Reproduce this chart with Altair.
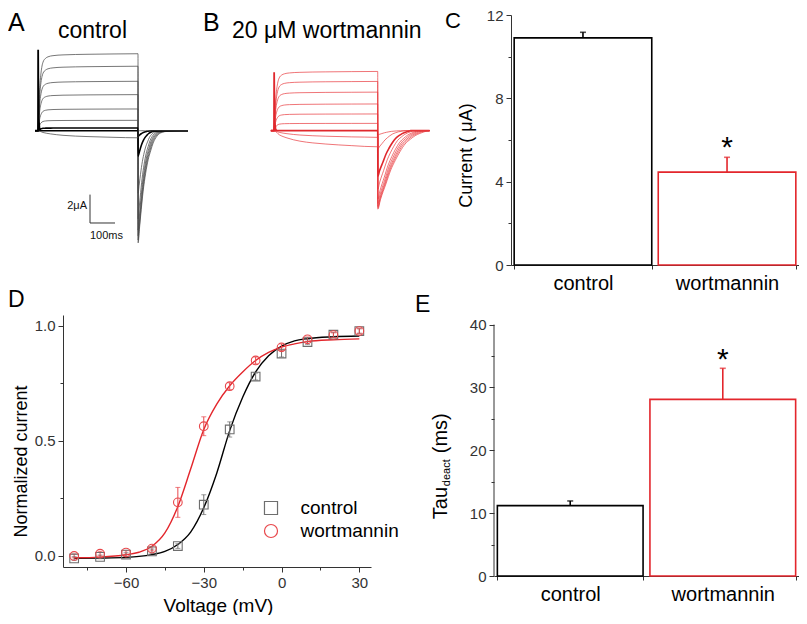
import altair as alt
import pandas as pd

FONT = "Liberation Sans"
RED = "#e3262c"
RED_PT = "#e8474b"
GRAY_PT = "#6e6e6e"
AXIS_C = "#333333"

# ---------------- data ----------------
# Panels A/B: time courses (fractions of the step level / tail peak), ms
ACT_T = [0, 2, 4, 6, 8, 12, 16, 20, 30, 40, 60, 100, 200, 300, 400]
ACT_F = [0, 0.18, 0.35, 0.5, 0.61, 0.75, 0.84, 0.89, 0.94, 0.96, 0.975, 0.985, 0.993, 0.997, 1.0]
SLOW_T = [0, 20, 50, 100, 150, 200, 300, 400]
SLOW_F = [0, 0.25, 0.45, 0.65, 0.76, 0.83, 0.93, 1.0]
TAIL_A_DT = [0, 5, 10, 20, 30, 40, 50, 60, 75, 90, 120, 190]
TAIL_A_F = [1, 0.88, 0.76, 0.54, 0.38, 0.26, 0.18, 0.11, 0.05, 0.02, 0.005, 0]
TAIL_B_DT = [0, 10, 31, 50, 67, 85, 105, 125, 144, 175, 195]
TAIL_B_F = [1, 0.88, 0.68, 0.5, 0.38, 0.27, 0.17, 0.11, 0.064, 0.02, 0]

# step levels (uA), tail peaks (uA) and tail time stretch for each sweep
LEVEL_A = [5.42, 4.54, 3.48, 2.54, 1.53, 0.73, 0.19, 0.0, -0.5]
TAILPK_A = [-7.9, -7.7, -7.4, -7.0, -6.2, -4.4, -1.8, -0.4, 0.0]
TAILSC_A = [1.0, 0.95, 0.9, 0.85, 0.8, 0.75, 0.7, 0.6, 0.5]
LEVEL_B = [4.15, 3.45, 2.70, 1.87, 1.17, 0.51, 0.0, -0.47, -1.13]
TAILPK_B = [-5.5, -5.4, -5.3, -5.1, -4.8, -4.1, -3.2, -1.3, -0.3]
TAILSC_B = [1.0, 0.95, 0.9, 0.85, 0.8, 0.72, 0.65, 0.55, 0.5]

# capacitive transient at the step onset
CAP_T = [-12, 0, 0.6, 1.5, 3, 6, 10]
CAP_A = [0, 0, 5.7, 3.0, 0.8, 0.15, 0]
CAP_B = [0, 0, 4.1, 2.2, 0.6, 0.1, 0]

# scale bar of panel A (ms, uA)
SB_T = [208, 308]
SB_I = [-4.5, -6.5]

# Panel C / E bars
CATS = ["control", "wortmannin"]
C_VAL = [10.9, 4.46]
C_ERR = [0.27, 0.71]
E_VAL = [11.2, 28.1]
E_ERR = [0.74, 4.95]

# Panel D
V = [-80, -70, -60, -50, -40, -30, -20, -10, 0, 10, 20, 30]
CTRL_MEAN = [-0.011, -0.004, 0.006, 0.02, 0.043, 0.223, 0.55, 0.78, 0.88, 0.93, 0.962, 0.978]
CTRL_ERR = [0.008, 0.008, 0.008, 0.01, 0.01, 0.043, 0.033, 0.015, 0.015, 0.01, 0.01, 0.01]
WORT_MEAN = [0.0, 0.01, 0.015, 0.032, 0.233, 0.564, 0.738, 0.85, 0.907, 0.942, 0.96, 0.978]
WORT_ERR = [0.008, 0.01, 0.008, 0.01, 0.065, 0.041, 0.015, 0.015, 0.015, 0.01, 0.01, 0.01]
FIT_V = [-80, -70, -60, -55, -50, -45, -40, -35, -30, -25, -20, -15, -10, -5, 0, 5, 10, 20, 30]
FIT_CTRL = [-0.01, -0.009, -0.006, -0.002, 0.006, 0.02, 0.05, 0.105, 0.21, 0.36, 0.545, 0.69,
            0.80, 0.87, 0.912, 0.935, 0.945, 0.953, 0.956]
FIT_WORT = [-0.008, -0.005, 0.005, 0.016, 0.042, 0.1, 0.215, 0.38, 0.55, 0.66, 0.74, 0.80,
            0.85, 0.885, 0.908, 0.922, 0.932, 0.94, 0.944]


# ---------------- helpers ----------------
def sweeps(levels, peaks, stretch, tail_dt, tail_f):
    rows = []
    for i, (lv, pk, sc) in enumerate(zip(levels, peaks, stretch)):
        rows.append({"trace": i, "t": -12.0, "I": 0.0})
        st, sf = (ACT_T, ACT_F) if lv >= 0 else (SLOW_T, SLOW_F)
        for t, f in zip(st, sf):
            rows.append({"trace": i, "t": float(t), "I": lv * f})
        for dt, f in zip(tail_dt, tail_f):
            rows.append({"trace": i, "t": 400.5 + dt * sc, "I": pk * f})
        rows.append({"trace": i, "t": 600.0, "I": 0.0})
    return pd.DataFrame(rows)


def label(text, x, y, size, align="left", baseline="alphabetic", angle=0, color="#000"):
    return alt.Chart(pd.DataFrame({"s": [text]})).mark_text(
        align=align, baseline=baseline, fontSize=size, angle=angle, color=color, font=FONT
    ).encode(x=alt.value(x), y=alt.value(y), text="s:N")


def trace_layers(df, cap, xdom, ydom, main_color, thin_color, thin_w, thick_test):
    xs = alt.Scale(domain=xdom, nice=False, zero=False)
    ys = alt.Scale(domain=ydom, nice=False, zero=False)
    lines = alt.Chart(df).mark_line(interpolate="monotone").encode(
        x=alt.X("t:Q", scale=xs, axis=None),
        y=alt.Y("I:Q", scale=ys, axis=None),
        detail="trace:N",
        order="t:Q",
        color=alt.condition(thick_test, alt.value(main_color), alt.value(thin_color)),
        strokeWidth=alt.condition(thick_test, alt.value(1.6), alt.value(thin_w)),
    )
    capl = alt.Chart(pd.DataFrame({"t": CAP_T, "I": cap})).mark_line(
        color=main_color, strokeWidth=1.8
    ).encode(x=alt.X("t:Q", scale=xs, axis=None), y=alt.Y("I:Q", scale=ys, axis=None))
    return [lines, capl], xs, ys


# ---------------- panels A + B (one view, independent scales) ----------------
dfA = sweeps(LEVEL_A, TAILPK_A, TAILSC_A, TAIL_A_DT, TAIL_A_F)
layA, xsA, ysA = trace_layers(dfA, CAP_A, [100, 1332], [-9.458, 8.148], "#000000", "#4a4a4a", 0.75,
                              "datum.trace == 6 || datum.trace == 7")
sb_v = alt.Chart(pd.DataFrame({"t": [SB_T[0]], "I": [SB_I[0]], "I2": [SB_I[1]]})).mark_rule(
    color="#333", strokeWidth=1).encode(
    x=alt.X("t:Q", scale=xsA, axis=None), y=alt.Y("I:Q", scale=ysA, axis=None), y2="I2:Q")
sb_h = alt.Chart(pd.DataFrame({"t": [SB_T[0]], "t2": [SB_T[1]], "I": [SB_I[1]]})).mark_rule(
    color="#333", strokeWidth=1).encode(
    x=alt.X("t:Q", scale=xsA, axis=None), x2="t2:Q", y=alt.Y("I:Q", scale=ysA, axis=None))
sb_lab1 = alt.Chart(pd.DataFrame({"t": [196], "I": [-5.3], "s": ["2μA"]})).mark_text(
    fontSize=11, baseline="middle", align="right", font=FONT, color="#111").encode(
    x=alt.X("t:Q", scale=xsA, axis=None), y=alt.Y("I:Q", scale=ysA, axis=None), text="s:N")
sb_lab2 = alt.Chart(pd.DataFrame({"t": [274], "I": [-7.44], "s": ["100ms"]})).mark_text(
    fontSize=11, baseline="middle", align="center", font=FONT, color="#111").encode(
    x=alt.X("t:Q", scale=xsA, axis=None), y=alt.Y("I:Q", scale=ysA, axis=None), text="s:N")
A_part = alt.layer(*layA, sb_v, sb_h, sb_lab1, sb_lab2,
                   label("A", -55, 16.3, 25), label("control", 29.5, 23.3, 23, align="center"))

dfB = sweeps(LEVEL_B, TAILPK_B, TAILSC_B, TAIL_B_DT, TAIL_B_F)
layB, xsB, ysB = trace_layers(dfB, CAP_B, [-813.7, 374.1], [-9.415, 8.106], "#e0282d", "#e8393d", 0.7,
                              "datum.trace == 6")
B_part = alt.layer(*layB, label("B", 140, 16.3, 25), label("20 μM wortmannin", 169, 23.3, 23))

AB = alt.layer(A_part, B_part).resolve_scale(x="independent", y="independent").properties(
    width=308, height=250)


# ---------------- bar panels C & E ----------------
def bar_panel(vals, errs, ydom, values, major, title, letter, letter_xy, star_dy, xrange,
              ytitle_xy=None, hide_domain=False, rule_top=None, yoffset=0):
    df = pd.DataFrame({"cat": CATS, "val": vals, "top": [v + e for v, e in zip(vals, errs)]})
    xsc = alt.Scale(domain=CATS, range=xrange, paddingInner=0.045, paddingOuter=0.022)
    ysc = alt.Scale(domain=ydom, nice=False, zero=True)
    xax = alt.Axis(title=None, labelAngle=0, labelFontSize=20, labelColor="#000", tickBand="extent",
                   tickSize=4, labelPadding=4)
    yax_kw = dict(values=values, labelExpr=f"datum.value % {major} == 0 ? datum.label : ''",
                  tickSize={"condition": {"test": f"datum.value % {major} == 0", "value": 5}, "value": 3},
                  labelFontSize=15, labelPadding=3, domain=not hide_domain, offset=yoffset)
    if ytitle_xy is not None:
        yax_kw.update(title=title, titleFontSize=18, titleAngle=270, titleAlign="center",
                      titleBaseline="alphabetic", titleX=ytitle_xy[0], titleY=ytitle_xy[1])
    else:
        yax_kw.update(title=None)
    yax = alt.Axis(**yax_kw)

    def X():
        return alt.X("cat:N", scale=xsc, axis=xax, title=None)

    def Y(f):
        return alt.Y(f"{f}:Q", scale=ysc, axis=yax)

    col = alt.condition("datum.cat == 'control'", alt.value("#000000"), alt.value(RED))
    bars = alt.Chart(df).mark_bar(fill="white", strokeWidth=1.6).encode(
        x=X(), y=Y("val"), stroke=col)
    err = alt.Chart(df).mark_rule(strokeWidth=1.6).encode(
        x=X(), y=Y("val"), y2="top:Q", stroke=col)
    cap = alt.Chart(df).mark_tick(size=6, thickness=1.6).encode(
        x=X(), y=Y("top"), color=col)
    star = alt.Chart(df).transform_filter(alt.datum.cat == "wortmannin").mark_text(
        text="*", fontSize=30, baseline="alphabetic", dy=star_dy, color="#000", font=FONT).encode(
        x=X(), y=Y("top"))
    layers = [bars, err, cap, star, label(letter, letter_xy[0], letter_xy[1], letter_xy[2])]
    if rule_top is not None:
        axr = alt.Chart(pd.DataFrame({"lo": [0], "hi": [rule_top]})).mark_rule(
            color=AXIS_C, strokeWidth=1).encode(x=alt.value(0), y=Y("lo"), y2="hi:Q")
        layers.append(axr)
    return layers


layC = bar_panel(C_VAL, C_ERR, [0, 12], list(range(0, 13, 2)), 4, "Current ( μA)",
                 "C", (-49, 13, 22), 0, [17, 305], ytitle_xy=(-39.7, 140), yoffset=-17)
C = alt.layer(*layC).properties(width=305, height=250)

layE = bar_panel(E_VAL, E_ERR, [0, 41.53], list(range(0, 41, 5)), 10, None,
                 "E", (-79, -3.3, 23), 1, [0, 305], ytitle_xy=None, hide_domain=True, rule_top=40)
layE += [label("Tau", -47.5, 188, 20, align="center", angle=270),
         label("deact", -44.5, 157.7, 11, align="center", angle=270),
         label("(ms)", -47.5, 118.3, 20, align="center", angle=270)]
E = alt.layer(*layE).properties(width=305, height=261)

# ---------------- panel D ----------------
series = ["control"] * len(V) + ["wortmannin"] * len(V)
dfD = pd.DataFrame({
    "V": V + V,
    "m": CTRL_MEAN + WORT_MEAN,
    "lo": [m - e for m, e in zip(CTRL_MEAN + WORT_MEAN, CTRL_ERR + WORT_ERR)],
    "hi": [m + e for m, e in zip(CTRL_MEAN + WORT_MEAN, CTRL_ERR + WORT_ERR)],
    "series": series,
})
dfFit = pd.DataFrame({"V": FIT_V + FIT_V, "m": FIT_CTRL + FIT_WORT,
                      "series": ["control"] * len(FIT_V) + ["wortmannin"] * len(FIT_V)})

xsD = alt.Scale(domain=[-84.3, 34.5], nice=False, zero=False)
ysD = alt.Scale(domain=[-0.048, 1.0476], nice=False, zero=False)
xaxD = alt.Axis(values=[-75, -60, -45, -30, -15, 0, 15, 30],
                labelExpr="datum.value % 30 == 0 ? datum.label : ''",
                tickSize={"condition": {"test": "datum.value % 30 == 0", "value": 5}, "value": 3},
                labelFontSize=15, labelPadding=3, title="Voltage (mV)", titleFontSize=19,
                titleX=155, titleY=44, titleBaseline="alphabetic", titleAlign="center")
yaxD = alt.Axis(values=[0, 0.25, 0.5, 0.75, 1.0], format=".1f",
                labelExpr="(datum.value * 4) % 2 == 0 ? datum.label : ''",
                tickSize={"condition": {"test": "(datum.value * 4) % 2 == 0", "value": 5}, "value": 3},
                labelFontSize=15, labelPadding=3, title="Normalized current", titleFontSize=18,
                titleAngle=270, titleAlign="center", titleBaseline="alphabetic",
                titleX=-37, titleY=146)


def XD(f="V"):
    return alt.X(f"{f}:Q", scale=xsD, axis=xaxD)


def YD(f):
    return alt.Y(f"{f}:Q", scale=ysD, axis=yaxD)


ptcol = alt.condition("datum.series == 'control'", alt.value(GRAY_PT), alt.value(RED_PT))
fits = alt.Chart(dfFit).mark_line(interpolate="monotone", strokeWidth=1.4).encode(
    x=XD(), y=YD("m"), detail="series:N", order="V:Q",
    color=alt.condition("datum.series == 'control'", alt.value("#000000"), alt.value(RED)))
ebars = alt.Chart(dfD).mark_rule(strokeWidth=1).encode(x=XD(), y=YD("lo"), y2="hi:Q", color=ptcol)
capsH = alt.Chart(dfD).mark_tick(orient="horizontal", size=5, thickness=1).encode(
    x=XD(), y=YD("hi"), color=ptcol)
capsL = alt.Chart(dfD).mark_tick(orient="horizontal", size=5, thickness=1).encode(
    x=XD(), y=YD("lo"), color=ptcol)
leg = alt.Legend(title=None, orient="none", legendX=198.5, legendY=183.5, symbolSize=170,
                 symbolStrokeWidth=1.2, labelFontSize=19, labelFont=FONT, labelColor="#000",
                 labelOffset=20, rowPadding=3, padding=0)
pts = alt.Chart(dfD).mark_point(filled=False, size=75, strokeWidth=1.1, opacity=1).encode(
    x=XD(), y=YD("m"),
    color=alt.Color("series:N", scale=alt.Scale(domain=["control", "wortmannin"],
                                                range=[GRAY_PT, RED_PT]), legend=leg),
    shape=alt.Shape("series:N", scale=alt.Scale(domain=["control", "wortmannin"],
                                                range=["square", "circle"]), legend=leg))
D = alt.layer(fits, ebars, capsH, capsL, pts, label("D", -55, -8.5, 23)).properties(width=308, height=252)

chart = alt.concat(
    AB, C, D, E, columns=2, spacing={"row": 50, "column": 123}, bounds="flush"
).resolve_scale(color="independent", shape="independent", stroke="independent").properties(
    padding=0).configure_view(stroke=None).configure_axis(
    grid=False, labelFont=FONT, titleFont=FONT, domainColor=AXIS_C, tickColor=AXIS_C,
    labelColor=AXIS_C, titleColor="#000", titleFontWeight="normal", zindex=1
).configure_text(font=FONT)

chart.save("out.html", embed_options={"renderer": "svg", "actions": False})
